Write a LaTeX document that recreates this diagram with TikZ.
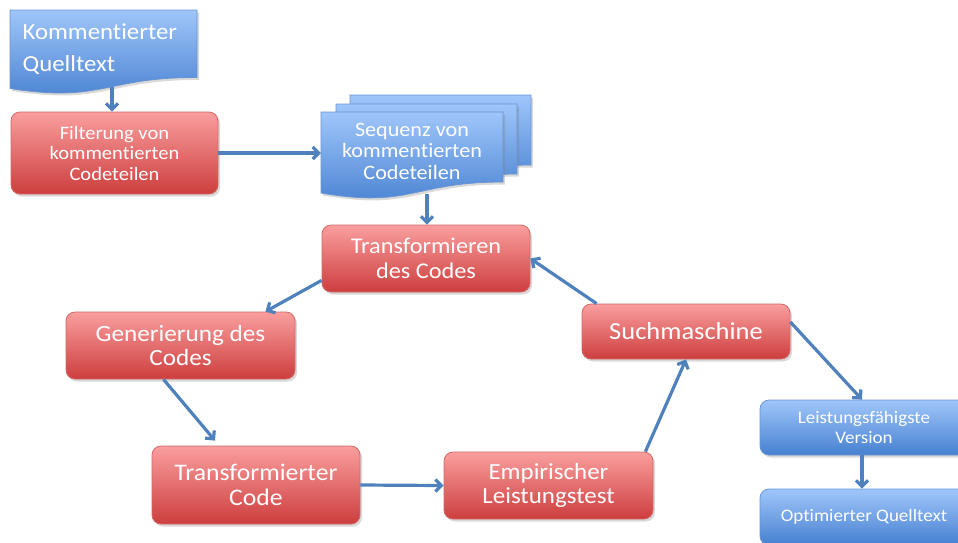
\documentclass[tikz,border=0pt]{standalone}
\usepackage{fontspec}
\setmainfont{Carlito}[Ligatures=NoCommon,FakeStretch=1.08]
\usetikzlibrary{arrows.meta,shadows,calc}
\definecolor{redtop}{RGB}{250,158,158}
\definecolor{redbot}{RGB}{205,62,62}
\definecolor{redline}{RGB}{210,105,105}
\definecolor{bluetop}{RGB}{160,198,250}
\definecolor{bluebot}{RGB}{70,128,208}
\definecolor{blueline}{RGB}{105,148,212}
\definecolor{arrowblue}{RGB}{79,129,189}
\begin{document}
\begin{tikzpicture}[x=1pt,y=1pt,
  shad/.style={drop shadow={shadow xshift=2pt,shadow yshift=-2.5pt,opacity=0.3}},
  redbox/.style={draw=redline,line width=0.8pt,rounded corners=9pt,top color=redtop,bottom color=redbot,text=white,align=center,inner sep=0pt,shad},
  bluebox/.style={draw=blueline,line width=0.8pt,rounded corners=9pt,top color=bluetop,bottom color=bluebot,text=white,align=center,inner sep=0pt,shad},
  docshape/.style={draw=blueline,line width=0.8pt,top color=bluetop,bottom color=bluebot,shad},
  flow/.style={draw=arrowblue,line width=3.2pt,-{Straight Barb[length=6pt,width=12pt]}}
]
\useasboundingbox (0,0) rectangle (958,-542);

% document: Kommentierter Quelltext
\path[docshape] (10,-10) -- (197,-10) -- (197,-77.4)
  .. controls (103.5,-77.4) and (103.5,-103) .. (10,-88.5) -- cycle;
\node[anchor=west,text=white,align=left,font=\fontsize{23}{32}\selectfont] (doc) at (19,-49) {Kommentierter\\Quelltext};
\coordinate (docb) at (112,-87);

% multi document
\path[docshape] (350,-95) -- (531,-95) -- (531,-165)
  .. controls (440.5,-165) and (440.5,-191.5) .. (350,-176) -- cycle;
\path[docshape] (336,-104) -- (517,-104) -- (517,-174)
  .. controls (426.5,-174) and (426.5,-200.5) .. (336,-185) -- cycle;
\path[docshape] (321,-112) -- (503,-112) -- (503,-182)
  .. controls (412,-182) and (412,-208.5) .. (321,-193) -- cycle;
\node[text=white,align=center,font=\fontsize{20.5}{21.5}\selectfont] (seq) at (412,-151) {Sequenz von\\kommentierten\\Codeteilen};
\coordinate (seql) at (321,-153);
\coordinate (seqb) at (427,-194);

% process boxes
\node[redbox,minimum width=207pt,minimum height=82pt,font=\fontsize{19}{20.5}\selectfont] (filter) at (114.5,-153) {Filterung von\\kommentierten\\Codeteilen};
\node[redbox,minimum width=208pt,minimum height=67pt,font=\fontsize{22.5}{24.5}\selectfont] (trans) at (426,-258.5) {Transformieren\\des Codes};
\node[redbox,minimum width=229pt,minimum height=67pt,font=\fontsize{23.3}{23.5}\selectfont] (gen) at (180.5,-345.5) {Generierung des\\Codes};
\node[redbox,minimum width=208pt,minimum height=78pt,font=\fontsize{23.8}{25}\selectfont] (tcode) at (256,-485) {Transformierter\\Code};
\node[redbox,minimum width=209pt,minimum height=67pt,font=\fontsize{23.1}{24}\selectfont] (emp) at (548.5,-485.5) {Empirischer\\Leistungstest};
\node[redbox,minimum width=208pt,minimum height=55pt,font=\fontsize{24.5}{25}\selectfont] (such) at (686,-331.5) {Suchmaschine};
\node[bluebox,minimum width=208pt,minimum height=55pt,font=\fontsize{17.6}{20}\selectfont] (leist) at (864,-427.5) {Leistungsfähigste\\Version};
\node[bluebox,minimum width=208pt,minimum height=56pt,font=\fontsize{17.6}{20}\selectfont] (opt) at (864,-517) {Optimierter Quelltext};

% connectors
\draw[flow] (docb) -- ([xshift=-2.5pt]filter.north);
\draw[flow] (filter.east) -- (seql);
\draw[flow] (seqb) -- ([xshift=1pt]trans.north);
\draw[flow] ([yshift=12pt]trans.south west) -- ([xshift=-30pt]gen.north east);
\draw[flow] ([xshift=-17pt]gen.south) -- ([xshift=-41pt,yshift=5pt]tcode.north);
\draw[flow] (tcode.east) -- (emp.west);
\draw[flow] ([xshift=-8pt]emp.north east) -- (such.south);
\draw[flow] ([xshift=15pt]such.north west) -- (trans.east);
\draw[flow] ([yshift=9.5pt]such.east) -- ([xshift=-2pt]leist.north);
\draw[flow] ([xshift=-2pt]leist.south) -- ([xshift=-2pt]opt.north);
\end{tikzpicture}
\end{document}
